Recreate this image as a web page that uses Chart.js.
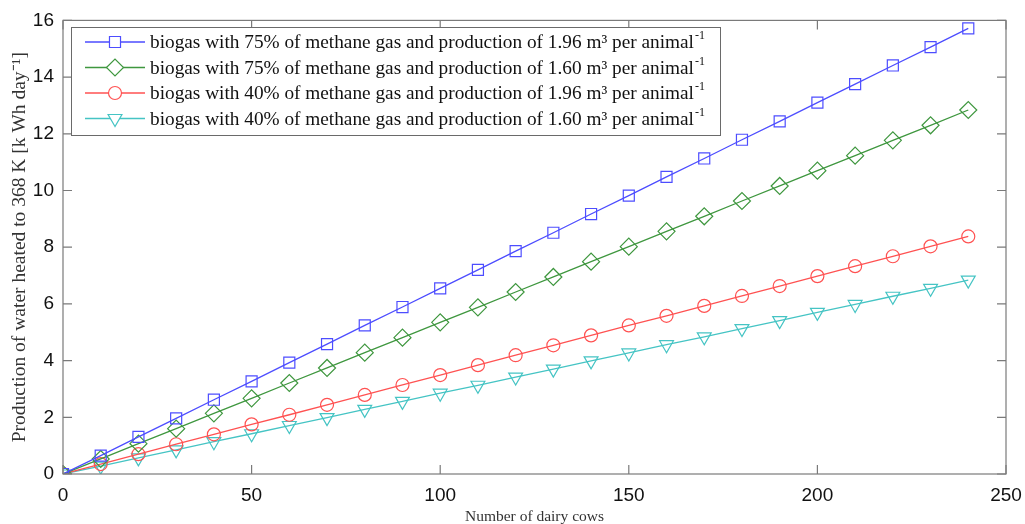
<!DOCTYPE html>
<html>
<head>
<meta charset="utf-8">
<script src="https://cdn.jsdelivr.net/npm/chart.js@4"></script>
<style>
  body { margin: 0; background: #fff; }
  #wrap { width: 1025px; height: 524px; }
</style>
</head>
<body>
<div id="wrap"><canvas id="chart"></canvas></div>
<script>
const cows = [0, 10, 20, 30, 40, 50, 60, 70, 80, 90, 100, 110, 120, 130, 140, 150, 160, 170, 180, 190, 200, 210, 220, 230, 240];

const ch4_75_196 = [0, 0.65, 1.31, 1.96, 2.62, 3.27, 3.93, 4.58, 5.24, 5.89, 6.55, 7.20, 7.86, 8.51, 9.17, 9.82, 10.48, 11.13, 11.79, 12.44, 13.10, 13.75, 14.41, 15.06, 15.72];
const ch4_75_160 = [0, 0.53, 1.07, 1.60, 2.14, 2.67, 3.21, 3.74, 4.28, 4.81, 5.35, 5.88, 6.42, 6.95, 7.49, 8.02, 8.56, 9.09, 9.63, 10.16, 10.70, 11.23, 11.77, 12.30, 12.84];
const ch4_40_196 = [0, 0.35, 0.70, 1.05, 1.40, 1.75, 2.09, 2.44, 2.79, 3.14, 3.49, 3.84, 4.19, 4.54, 4.89, 5.24, 5.58, 5.93, 6.28, 6.63, 6.98, 7.33, 7.68, 8.03, 8.38];
const ch4_40_160 = [0, 0.28, 0.57, 0.85, 1.14, 1.42, 1.71, 1.99, 2.28, 2.56, 2.85, 3.13, 3.42, 3.70, 3.99, 4.27, 4.56, 4.84, 5.13, 5.41, 5.70, 5.98, 6.27, 6.55, 6.84];

const seriesLabels = [
    "biogas with 75% of methane gas and production of 1.96 m³ per animal",
    "biogas with 75% of methane gas and production of 1.60 m³ per animal",
    "biogas with 40% of methane gas and production of 1.96 m³ per animal",
    "biogas with 40% of methane gas and production of 1.60 m³ per animal"
];
const xTicks = [0, 50, 100, 150, 200, 250];
const yTicks = [0, 2, 4, 6, 8, 10, 12, 14, 16];

function toPoints(values) {
    return values.map((v, i) => ({ x: cows[i], y: v }));
}

function makeSet(label, values, color, style, radius, rotation) {
    return {
        label: label,
        data: toPoints(values),
        borderColor: color,
        backgroundColor: "rgba(0,0,0,0)",
        borderWidth: 1.3,
        pointStyle: style,
        pointRadius: radius,
        pointRotation: rotation,
        pointBorderColor: color,
        pointBackgroundColor: "rgba(0,0,0,0)",
        pointBorderWidth: 1.2,
        tension: 0
    };
}

// box round the plot with ticks pointing inward
const framePlugin = {
    id: "frame",
    afterDatasetsDraw(chart) {
        const ctx = chart.ctx;
        const a = chart.chartArea;
        const xs = chart.scales.x, ys = chart.scales.y;
        ctx.save();
        ctx.strokeStyle = "#7a7a7a";
        ctx.lineWidth = 1.2;
        ctx.strokeRect(a.left, a.top, a.right - a.left, a.bottom - a.top);
        ctx.beginPath();
        xTicks.forEach(t => {
            const px = xs.getPixelForValue(t);
            ctx.moveTo(px, a.bottom); ctx.lineTo(px, a.bottom - 9);
            ctx.moveTo(px, a.top); ctx.lineTo(px, a.top + 9);
        });
        yTicks.forEach(t => {
            const py = ys.getPixelForValue(t);
            ctx.moveTo(a.left, py); ctx.lineTo(a.left + 9, py);
            ctx.moveTo(a.right, py); ctx.lineTo(a.right - 9, py);
        });
        ctx.stroke();
        ctx.restore();
    }
};

// legend drawn by hand so the "-1" can sit as a superscript
const legendPlugin = {
    id: "boxLegend",
    afterDraw(chart) {
        const ctx = chart.ctx;
        const bx = 71, by = 27, bw = 649, bh = 108;
        ctx.save();
        ctx.fillStyle = "#fff";
        ctx.fillRect(bx, by, bw, bh);
        ctx.strokeStyle = "#6a6a6a";
        ctx.lineWidth = 1;
        ctx.strokeRect(bx + 0.5, by + 0.5, bw, bh);
        chart.data.datasets.forEach((ds, i) => {
            const y = by + 15 + i * 25.5;
            ctx.strokeStyle = ds.borderColor;
            ctx.lineWidth = 1.3;
            ctx.beginPath();
            ctx.moveTo(bx + 14, y);
            ctx.lineTo(bx + 74, y);
            ctx.stroke();
            ctx.lineWidth = 1.2;
            ctx.fillStyle = "#fff";
            Chart.helpers.drawPoint(ctx, {
                pointStyle: ds.pointStyle,
                rotation: ds.pointRotation,
                radius: ds.pointRadius,
                borderWidth: 1.2
            }, bx + 44, y);
            ctx.fillStyle = "#111";
            ctx.textBaseline = "middle";
            ctx.textAlign = "left";
            ctx.font = "19.3px 'Liberation Serif', 'Times New Roman', serif";
            ctx.fillText(ds.label, bx + 79, y + 1);
            const w = ctx.measureText(ds.label).width;
            ctx.font = "12px 'Liberation Serif', 'Times New Roman', serif";
            ctx.fillText("-1", bx + 80 + w, y - 6);
        });
        ctx.restore();
    }
};

new Chart(document.getElementById("chart"), {
    type: "line",
    data: {
        datasets: [
            makeSet(seriesLabels[0], ch4_75_196, "#4d4dff", "rect", 7.8, 0),
            makeSet(seriesLabels[1], ch4_75_160, "#3f973f", "rectRot", 8.5, 0),
            makeSet(seriesLabels[2], ch4_40_196, "#ff5252", "circle", 6.5, 0),
            makeSet(seriesLabels[3], ch4_40_160, "#45c4c4", "triangle", 8, 180)
        ]
    },
    plugins: [framePlugin, legendPlugin],
    options: {
        responsive: true,
        maintainAspectRatio: false,
        animation: false,
        layout: { padding: { top: 17, right: 19, left: 0, bottom: 0 } },
        plugins: {
            legend: { display: false },
            tooltip: { enabled: false }
        },
        scales: {
            x: {
                type: "linear",
                min: 0,
                max: 250,
                grid: { display: false, drawTicks: false },
                border: { display: false },
                afterBuildTicks: s => { s.ticks = xTicks.map(v => ({ value: v })); },
                afterFit: s => { s.height = 50; s.paddingRight = 0; s.paddingLeft = 0; },
                ticks: {
                    padding: 10,
                    maxRotation: 0,
                    color: "#111",
                    font: { family: "'Liberation Sans', Arial, sans-serif", size: 19 }
                },
                title: {
                    display: true,
                    text: "Number of dairy cows",
                    color: "#333",
                    padding: { top: 0, bottom: -2 },
                    font: { family: "'Liberation Serif', 'Times New Roman', serif", size: 15.5 }
                }
            },
            y: {
                min: 0,
                max: 16,
                grid: { display: false, drawTicks: false },
                border: { display: false },
                afterBuildTicks: s => { s.ticks = yTicks.map(v => ({ value: v })); },
                afterFit: s => { s.width = 63; },
                ticks: {
                    padding: 9,
                    color: "#111",
                    font: { family: "'Liberation Sans', Arial, sans-serif", size: 19 }
                },
                title: {
                    display: true,
                    text: "Production of water heated to 368 K [k Wh day⁻¹]",
                    color: "#333",
                    padding: { top: 8, bottom: 0 },
                    font: { family: "'Liberation Serif', 'Times New Roman', serif", size: 19.5 }
                }
            }
        }
    }
});
</script>
</body>
</html>
